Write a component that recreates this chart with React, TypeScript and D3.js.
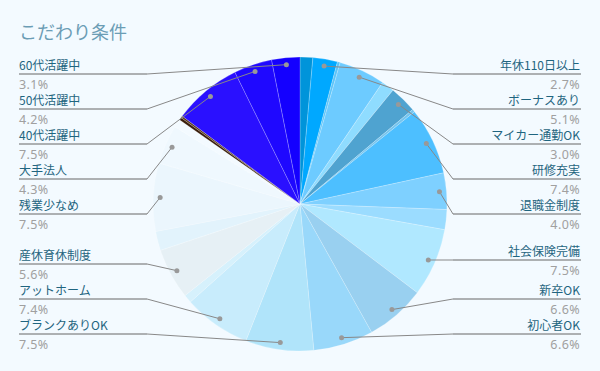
import React from "react";
import * as d3 from "d3";

const title = "こだわり条件";
const categories = [
  "", "年休110日以上", "", "ボーナスあり", "", "マイカー通勤OK", "", "研修充実", "退職金制度", "",
  "社会保険完備", "新卒OK", "初心者OK", "ブランクありOK", "アットホーム", "", "産休育休制度", "",
  "残業少なめ", "大手法人", "", "", "", "40代活躍中", "50代活躍中", "60代活躍中",
];
const values = [
  1.4, 2.7, 0.3, 5.1, 1.4, 3.0, 0.3, 7.4, 4.0, 2.2,
  7.5, 6.6, 6.6, 7.5, 7.4, 0.9, 5.6, 2.1,
  7.5, 4.3, 0.9, 0.3, 0.2, 7.5, 4.2, 3.1,
];
const colors = [
  "#0094da", "#00a8ff", "#5cc4f8", "#6dcbff", "#8fdcff", "#4fa3d0", "#74c4ee", "#4dbfff", "#7ed0ff", "#9bdcff",
  "#b0e8ff", "#99d0f0", "#99d8fa", "#b0e4fa", "#c8ecfc", "#d6f1fc", "#e6f0f5", "#e2f3fc",
  "#ebf6fd", "#eff8fe", "#f3faff", "#3a1e0c", "#5a3818", "#2a10ff", "#1f08ff", "#1400ff",
];

const W = 600, H = 371;
const cx = 300, cy = 204, R = 147, dotR = 140;
const top = 74, bottom = 334, gap = 35;

export default function App() {
  const data = values.map((v, i) => ({ label: categories[i], value: v, color: colors[i] }));
  const total = d3.sum(values);
  const pie = d3.pie<any>().sort(null).value((d) => d.value).startAngle(0).endAngle(2 * Math.PI);
  const arcs = pie(data);
  const arcGen = d3.arc<any>().innerRadius(0).outerRadius(R);

  const labeled = arcs
    .filter((a) => a.data.label)
    .map((a) => {
      const mid = (a.startAngle + a.endAngle) / 2;
      const dx = cx + dotR * Math.sin(mid);
      const dy = cy - dotR * Math.cos(mid);
      return { a, mid, dx, dy, right: mid < Math.PI, y: 0 };
    });

  const layout = (items: any[]) => {
    items.sort((p, q) => p.dy - q.dy);
    let prev = -Infinity;
    items.forEach((it) => {
      it.y = Math.max(it.dy, top, prev + gap);
      prev = it.y;
    });
    let next = Infinity;
    for (let i = items.length - 1; i >= 0; i--) {
      items[i].y = Math.min(items[i].y, bottom, next - gap);
      next = items[i].y;
    }
    return items;
  };
  const rightItems = layout(labeled.filter((l) => l.right));
  const leftItems = layout(labeled.filter((l) => !l.right));

  const font = "'Noto Sans CJK JP', 'Noto Sans', sans-serif";
  const numFont = "'Noto Sans', 'DejaVu Sans', sans-serif";

  const renderLabel = (it: any, side: "left" | "right", idx: number) => {
    const x0 = side === "left" ? 19 : 453;
    const x1 = side === "left" ? 147 : 581;
    const anchorX = side === "left" ? x1 : x0;
    const tx = side === "left" ? 19 : 580;
    const ta = side === "left" ? "start" : "end";
    const pct = ((it.a.data.value / total) * 100).toFixed(1) + "%";
    return (
      <g key={side + idx}>
        <path
          d={`M${anchorX},${it.y}L${it.dx},${it.dy}`}
          stroke="#888"
          strokeWidth={1}
          fill="none"
        />
        <line x1={x0} x2={x1} y1={it.y} y2={it.y} stroke="#666" strokeWidth={1} />
        <circle cx={it.dx} cy={it.dy} r={2.5} fill="#999" />
        <text x={tx} y={it.y - 4} textAnchor={ta} fontSize={12} fill="#1f6580" fontFamily={font}>
          {it.a.data.label}
        </text>
        <text x={tx} y={it.y + 14.5} textAnchor={ta} fontSize={12.5} fill="#a0a0a0" fontFamily={numFont} letterSpacing={0.4}>
          {pct}
        </text>
      </g>
    );
  };

  return (
    <svg
      width={W}
      height={H}
      style={{ position: "absolute", left: 0, top: 0, display: "block" }}
    >
      <rect x={0} y={0} width={W} height={H} fill="#f3faff" />
      <text x={19} y={39} fontSize={18} fill="#6b9db5" fontFamily={font}>
        {title}
      </text>
      <g transform={`translate(${cx},${cy})`}>
        {arcs.map((a, i) => (
          <path
            key={i}
            d={arcGen(a) as string}
            fill={a.data.color}
            stroke="#ffffff"
            strokeOpacity={0.35}
            strokeWidth={0.6}
          />
        ))}
      </g>
      {leftItems.map((it, i) => renderLabel(it, "left", i))}
      {rightItems.map((it, i) => renderLabel(it, "right", i))}
    </svg>
  );
}
